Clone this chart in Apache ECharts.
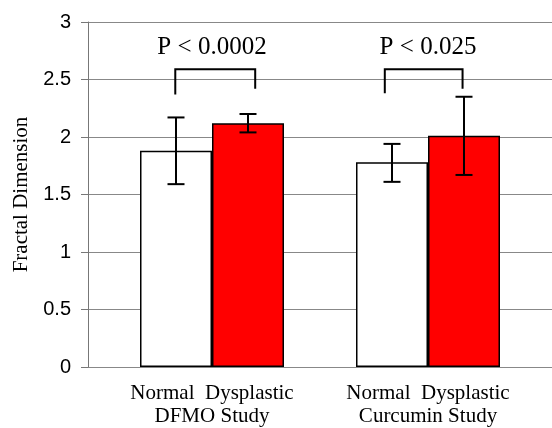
<!DOCTYPE html>
<html>
<head>
<meta charset="utf-8">
<script src="https://cdn.jsdelivr.net/npm/echarts@6/dist/echarts.min.js"></script>
<style>html,body{margin:0;padding:0;background:#fff}#c{width:552px;height:428px}</style>
</head>
<body>
<div id="c"></div>
<script>
var categories = ['Normal  Dysplastic\nDFMO Study', 'Normal  Dysplastic\nCurcumin Study'];
var normalMeans = [1.88, 1.78];
var dysplasticMeans = [2.12, 2.01];
var normalLow = [1.59, 1.61];
var normalHigh = [2.17, 1.94];
var dysplasticLow = [2.04, 1.67];
var dysplasticHigh = [2.20, 2.35];
var pLabels = ['P < 0.0002', 'P < 0.025'];
var bracketTop = [2.59, 2.59];
var bracketLeftEnd = [2.37, 2.38];
var bracketRightEnd = [2.42, 2.42];
// bracket ends, as offsets within a category (in category units)
var bracketLeftX = [-0.17, -0.20];
var bracketRightX = [0.20, 0.16];
var yTicks = [0, 0.5, 1, 1.5, 2, 2.5, 3];

var GAP = 1 / 3;
function barW(api) { return api.size([1, 0])[0] * (1 - GAP) / 2; }

function errRender(side, lows, highs) {
  return function (params, api) {
    var i = api.value(0);
    var w = barW(api);
    var c = api.coord([i, lows[i]]);
    var h = api.coord([i, highs[i]]);
    var x = c[0] + side * w / 2;
    var cap = 8.5;
    var st = { stroke: '#000', lineWidth: 2 };
    return { type: 'group', children: [
      { type: 'line', shape: { x1: x, y1: c[1], x2: x, y2: h[1] }, style: st },
      { type: 'line', shape: { x1: x - cap, y1: c[1], x2: x + cap, y2: c[1] }, style: st },
      { type: 'line', shape: { x1: x - cap, y1: h[1], x2: x + cap, y2: h[1] }, style: st }
    ]};
  };
}

function bracketRender(params, api) {
  var i = api.value(0);
  var band = api.size([1, 0])[0];
  var t = api.coord([i, bracketTop[i]]);
  var l = api.coord([i, bracketLeftEnd[i]]);
  var r = api.coord([i, bracketRightEnd[i]]);
  var xl = t[0] + bracketLeftX[i] * band, xr = t[0] + bracketRightX[i] * band;
  var st = { stroke: '#000', lineWidth: 2, fill: null };
  return { type: 'group', children: [
    { type: 'polyline', shape: { points: [[xl, l[1]], [xl, t[1]], [xr, t[1]], [xr, r[1]]] }, style: st },
    { type: 'text', style: { text: pLabels[i], x: t[0], y: t[1] - 9, align: 'center', verticalAlign: 'bottom',
      font: '25px "Liberation Serif", "Times New Roman", serif', fill: '#000' } }
  ]};
}

var idx = categories.map(function (c, i) { return [i]; });

var chart = echarts.init(document.getElementById('c'), null, { renderer: 'canvas' });
chart.setOption({
  animation: false,
  backgroundColor: '#fff',
  grid: [
    { left: 88, right: 0, top: 22, bottom: 61, outerBoundsMode: 'none', containLabel: false },
    { left: 104, right: 16, top: 22, bottom: 61, outerBoundsMode: 'none', containLabel: false }
  ],
  xAxis: [
    { gridIndex: 0, type: 'value', min: 0, max: 1, show: false },
    { gridIndex: 1, type: 'category', data: categories,
      axisLine: { show: false }, axisTick: { show: false },
      axisLabel: { margin: 15, color: '#000', fontSize: 21, lineHeight: 23,
        fontFamily: '"Liberation Serif", "Times New Roman", serif' } }
  ],
  yAxis: [
    { gridIndex: 0, type: 'value', min: 0, max: 3, interval: 0.5,
      name: 'Fractal Dimension', nameLocation: 'middle', nameGap: 56, nameRotate: 90,
      nameTextStyle: { color: '#000', fontSize: 21, fontFamily: '"Liberation Serif", "Times New Roman", serif' },
      axisLine: { show: true, lineStyle: { color: '#777', width: 1 } },
      axisTick: { show: true, length: 7, lineStyle: { color: '#777' } },
      axisLabel: { margin: 17, color: '#000', fontSize: 20, fontFamily: '"Liberation Sans", Arial, sans-serif',
        formatter: function (v) { return yTicks.indexOf(v) >= 0 ? String(v) : ''; } },
      splitLine: { show: true, lineStyle: { color: '#888', width: 1 } } },
    { gridIndex: 1, type: 'value', min: 0, max: 3, show: false }
  ],
  series: [
    { type: 'bar', name: 'Normal', xAxisIndex: 1, yAxisIndex: 1, data: normalMeans,
      barGap: '0%', barCategoryGap: (GAP * 100) + '%',
      itemStyle: { color: '#fff', borderColor: '#000', borderWidth: 1.5 } },
    { type: 'bar', name: 'Dysplastic', xAxisIndex: 1, yAxisIndex: 1, data: dysplasticMeans,
      itemStyle: { color: '#ff0000', borderColor: '#000', borderWidth: 1.5 } },
    { type: 'custom', xAxisIndex: 1, yAxisIndex: 1, data: idx, renderItem: errRender(-1, normalLow, normalHigh), z: 5 },
    { type: 'custom', xAxisIndex: 1, yAxisIndex: 1, data: idx, renderItem: errRender(1, dysplasticLow, dysplasticHigh), z: 5 },
    { type: 'custom', xAxisIndex: 1, yAxisIndex: 1, data: idx, renderItem: bracketRender, z: 5 }
  ]
});
</script>
</body>
</html>
